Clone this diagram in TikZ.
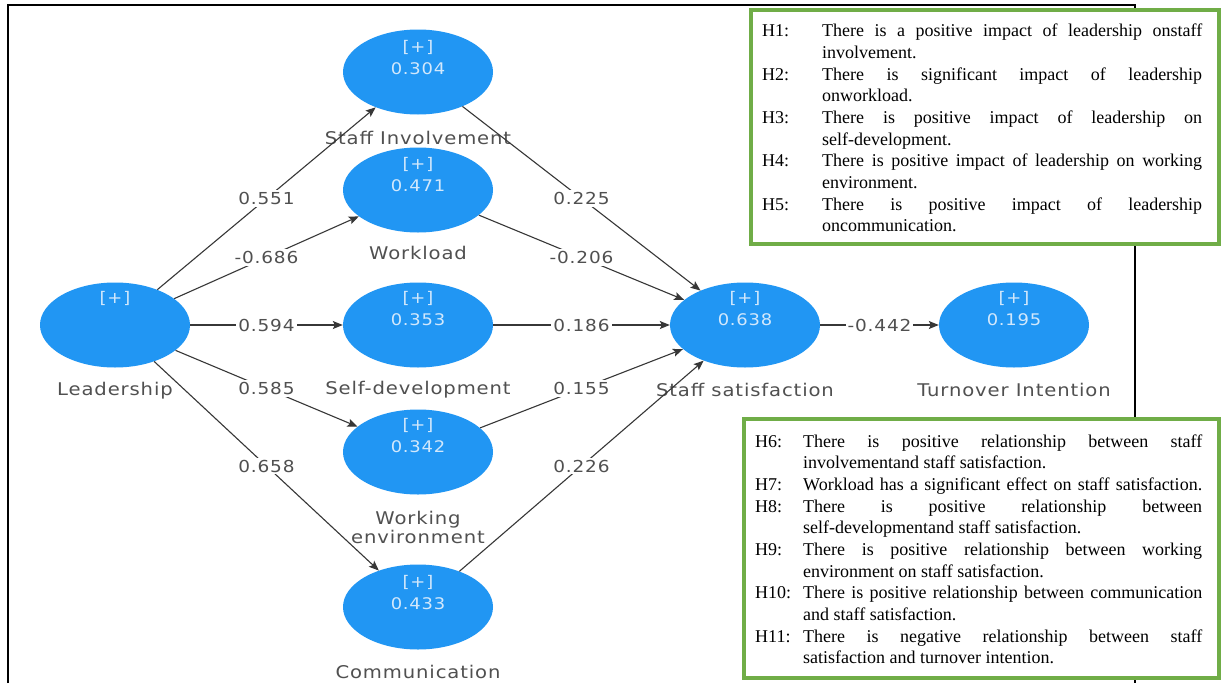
\documentclass[tikz,border=0pt]{standalone}
\usepackage{fontspec}
\setmainfont{Liberation Serif}
\newfontfamily\plsfont{DejaVu Sans}[FakeStretch=1.12,LetterSpace=5]
\usetikzlibrary{shapes.geometric,arrows.meta}
\definecolor{plsblue}{RGB}{33,150,243}
\definecolor{hgreen}{RGB}{112,173,71}
\definecolor{lblgray}{RGB}{80,80,80}
\definecolor{intxt}{RGB}{210,232,252}
\definecolor{edgegray}{RGB}{55,55,55}
\begin{document}
\begin{tikzpicture}[x=1pt,y=-1pt,
  lv/.style={ellipse, fill=plsblue, minimum width=150pt, minimum height=85pt, inner sep=0pt},
  intext/.style={text=intxt, font=\plsfont\fontsize{16}{16}\selectfont, inner sep=0pt},
  lvname/.style={text=lblgray, font=\plsfont\fontsize{17.5}{19}\selectfont, inner sep=0pt, align=center},
  conn/.style={draw=edgegray, line width=1.1pt, -{Stealth[length=10pt,width=8pt,inset=2pt]}},
  coef/.style={fill=white, text=lblgray, font=\plsfont\fontsize{16.5}{16.5}\selectfont, inner sep=2pt},
  hbox/.style={draw=hgreen, line width=4pt, fill=white},
  htext/.style={font=\fontsize{18}{18}\selectfont, anchor=base west, inner sep=0pt},
]
\useasboundingbox (0,0) rectangle (1221,683);
\fill[white] (0,0) rectangle (1221,683);
% outer frame
\draw[line width=2pt] (8,683) -- (8,5) -- (1135,5) -- (1135,683);

% latent variables
\node[lv] (L)  at (115,325) {};
\node[lv] (SI) at (418,72) {};
\node[lv] (WL) at (418,190) {};
\node[lv] (SD) at (418,325) {};
\node[lv] (WE) at (418,452) {};
\node[lv] (CM) at (418,607) {};
\node[lv] (SS) at (745,325) {};
\node[lv] (TI) at (1014,325) {};

% inner texts
\node[intext] (Lp)  at (115,298) {[+]};
\node[intext] (SIp) at (418,47) {[+]};
\node[intext] (SIv) at (418,69) {0.304};
\node[intext] (WLp) at (418,164) {[+]};
\node[intext] (WLv) at (418,186) {0.471};
\node[intext] (SDp) at (418,298) {[+]};
\node[intext] (SDv) at (418,320) {0.353};
\node[intext] (WEp) at (418,425) {[+]};
\node[intext] (WEv) at (418,447) {0.342};
\node[intext] (CMp) at (418,582) {[+]};
\node[intext] (CMv) at (418,604) {0.433};
\node[intext] (SSp) at (745,298) {[+]};
\node[intext] (SSv) at (745,320) {0.638};
\node[intext] (TIp) at (1014,298) {[+]};
\node[intext] (TIv) at (1014,320) {0.195};

% names
\node[lvname] (Ln)  at (115,391) {Leadership};
\node[lvname] (SIn) at (418,138) {Staff Involvement};
\node[lvname] (WLn) at (418,253) {Workload};
\node[lvname] (SDn) at (418,390) {Self-development};
\node[lvname] (WEn) at (418,527) {Working\\environment};
\node[lvname] (CMn) at (418,672) {Communication};
\node[lvname] (SSn) at (745,390) {Staff satisfaction};
\node[lvname] (TIn) at (1014,390) {Turnover Intention};

% paths
\draw[conn] (L) -- node[coef] (c1) {0.551} (SI);
\draw[conn] (L) -- node[coef] (c2) {-0.686} (WL);
\draw[conn] (L) -- node[coef] (c3) {0.594} (SD);
\draw[conn] (L) -- node[coef] (c4) {0.585} (WE);
\draw[conn] (L) -- node[coef] (c5) {0.658} (CM);
\draw[conn] (SI) -- node[coef] (c6) {0.225} (SS);
\draw[conn] (WL) -- node[coef] (c7) {-0.206} (SS);
\draw[conn] (SD) -- node[coef] (c8) {0.186} (SS);
\draw[conn] (WE) -- node[coef] (c9) {0.155} (SS);
\draw[conn] (CM) -- node[coef] (c10) {0.226} (SS);
\draw[conn] (SS) -- node[coef] (c11) {-0.442} (TI);

% hypothesis box 1
\draw[hbox] (751,10) rectangle (1219,244);
\node[htext] (h1)  at (762,36.7) {H1:};
\node[htext] (h1a) at (822,36.7) {\makebox[380pt][s]{There is a positive impact of leadership onstaff}};
\node[htext] (h1b) at (822,58.4) {involvement.};
\node[htext] (h2)  at (762,80.0) {H2:};
\node[htext] (h2a) at (822,80.0) {\makebox[380pt][s]{There is significant impact of leadership}};
\node[htext] (h2b) at (822,101.7) {onworkload.};
\node[htext] (h3)  at (762,123.4) {H3:};
\node[htext] (h3a) at (822,123.4) {\makebox[380pt][s]{There is positive impact of leadership on}};
\node[htext] (h3b) at (822,145.0) {self-development.};
\node[htext] (h4)  at (762,166.7) {H4:};
\node[htext] (h4a) at (822,166.7) {\makebox[380pt][s]{There is positive impact of leadership on working}};
\node[htext] (h4b) at (822,188.4) {environment.};
\node[htext] (h5)  at (762,210.0) {H5:};
\node[htext] (h5a) at (822,210.0) {\makebox[380pt][s]{There is positive impact of leadership}};
\node[htext] (h5b) at (822,231.7) {oncommunication.};

% hypothesis box 2
\draw[hbox] (744,419) rectangle (1219,678);
\node[htext] (h6)   at (755,447.0) {H6:};
\node[htext] (h6a)  at (803,447.0) {\makebox[399pt][s]{There is positive relationship between staff}};
\node[htext] (h6b)  at (803,468.7) {involvementand staff satisfaction.};
\node[htext] (h7)   at (755,490.3) {H7:};
\node[htext] (h7a)  at (803,490.3) {\makebox[399pt][s]{Workload has a significant effect on staff satisfaction.}};
\node[htext] (h8)   at (755,512.0) {H8:};
\node[htext] (h8a)  at (803,512.0) {\makebox[399pt][s]{There is positive relationship between}};
\node[htext] (h8b)  at (803,533.7) {self-developmentand staff satisfaction.};
\node[htext] (h9)   at (755,555.3) {H9:};
\node[htext] (h9a)  at (803,555.3) {\makebox[399pt][s]{There is positive relationship between working}};
\node[htext] (h9b)  at (803,577.0) {environment on staff satisfaction.};
\node[htext] (h10)  at (755,598.7) {H10:};
\node[htext] (h10a) at (803,598.7) {\makebox[399pt][s]{There is positive relationship between communication}};
\node[htext] (h10b) at (803,620.3) {and staff satisfaction.};
\node[htext] (h11)  at (755,642.0) {H11:};
\node[htext] (h11a) at (803,642.0) {\makebox[399pt][s]{There is negative relationship between staff}};
\node[htext] (h11b) at (803,663.7) {satisfaction and turnover intention.};
\end{tikzpicture}
\end{document}
